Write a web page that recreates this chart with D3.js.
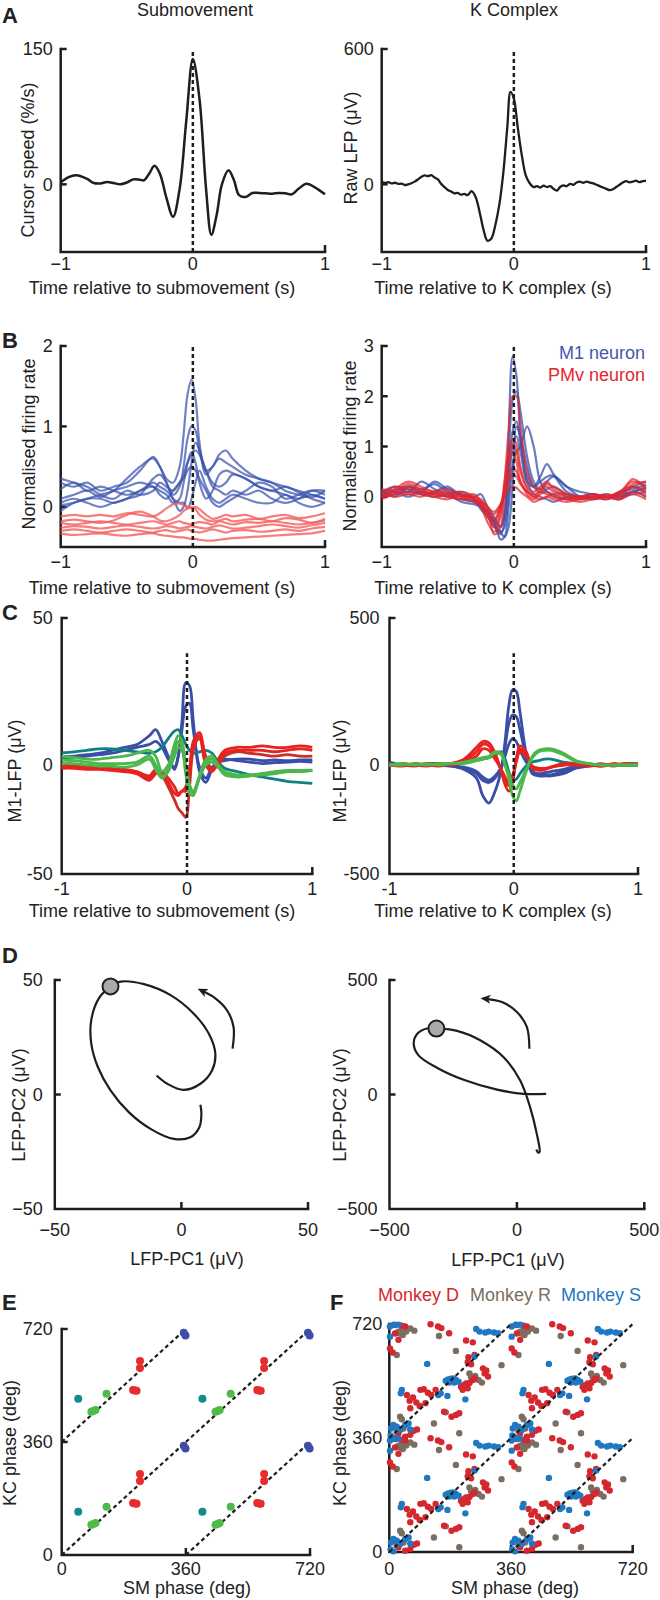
<!DOCTYPE html>
<html><head><meta charset="utf-8">
<script src="https://cdn.jsdelivr.net/npm/d3@7"></script>
<style>
body{margin:0;background:#fff;}
svg text{font-family:"Liberation Sans",Arial,sans-serif;fill:#222;}
</style></head><body>
<svg id="fig" width="660" height="1600"></svg>
<script>
// ---------------- DATA ----------------
// Panel A
const aLeftT = [-1,-0.94,-0.88,-0.8,-0.75,-0.7,-0.65,-0.6,-0.55,-0.5,-0.45,-0.4,-0.37,-0.33,-0.29,-0.25,-0.2,-0.15,-0.1,-0.05,0,0.05,0.1,0.14,0.18,0.22,0.27,0.31,0.35,0.4,0.45,0.5,0.55,0.6,0.65,0.7,0.75,0.8,0.86,0.92,1];
const aLeftV = [2,8,10,6,1.5,1,2.5,1.5,0,2,5.5,5,4.5,12,20.5,12,-15,-36,-5,70,139,95,-5,-56,-34,0,15.5,5,-12,-14,-9.6,-9.6,-10,-10.4,-9.6,-10,-11,-5,0.7,-3,-11];
const aRightT = [-1,-0.975,-0.95,-0.925,-0.9,-0.875,-0.85,-0.825,-0.8,-0.775,-0.75,-0.725,-0.7,-0.675,-0.65,-0.625,-0.6,-0.575,-0.55,-0.525,-0.5,-0.475,-0.45,-0.425,-0.4,-0.375,-0.35,-0.32,-0.29,-0.26,-0.23,-0.2,-0.17,-0.14,-0.11,-0.08,-0.05,-0.025,0,0.03,0.06,0.09,0.12,0.15,0.175,0.2,0.225,0.25,0.275,0.3,0.325,0.35,0.375,0.4,0.425,0.45,0.475,0.5,0.525,0.55,0.575,0.6,0.625,0.65,0.675,0.7,0.725,0.75,0.775,0.8,0.825,0.85,0.875,0.9,0.925,0.95,0.975,1];
const aRightV = [12,6,10,4,7,2,3,-3,0,5,12,22,33,40,36,41,30,22,2,-12,-25,-32,-40,-38,-46,-42,-48,-30,-55,-120,-200,-250,-240,-180,-90,50,250,410,380,250,130,40,5,-12,-8,-14,-6,-12,-8,-20,-28,-12,-5,-8,2,-2,8,12,7,12,8,4,-2,-8,-14,-20,-26,-22,-12,-2,8,14,9,12,16,10,14,15];

// Shared time grid for panels B and C
const tGrid = [-1,-0.9,-0.8,-0.7,-0.6,-0.5,-0.4,-0.3,-0.25,-0.2,-0.15,-0.1,-0.07,-0.04,-0.01,0.02,0.05,0.1,0.15,0.2,0.25,0.3,0.4,0.5,0.6,0.7,0.8,0.9,1];

// Panel B left (submovement)
const bLeftM1 = [
 [0.02,0.05,0.1,0.15,0.2,0.35,0.5,0.6,0.5,0.35,0.3,0.5,0.9,1.4,1.58,1.35,0.8,0.4,0.5,0.6,0.55,0.5,0.4,0.35,0.3,0.25,0.2,0.15,0.1],
 [0.3,0.25,0.3,0.2,0.25,0.3,0.45,0.62,0.5,0.3,0.15,0.25,0.5,0.85,1.0,0.95,0.7,0.45,0.5,0.65,0.7,0.6,0.45,0.35,0.3,0.2,0.15,0.12,0.2],
 [0.22,0.3,0.2,0.25,0.2,0.15,0.2,0.3,0.25,0.2,0.1,-0.05,0.0,0.2,0.55,0.8,0.7,0.45,0.3,0.25,0.3,0.4,0.35,0.25,0.2,0.15,0.1,0.15,0.1],
 [0.1,0.15,0.2,0.12,0.2,0.25,0.3,0.25,0.2,0.15,0.05,0.1,0.3,0.55,0.68,0.55,0.3,0.1,0.2,0.4,0.45,0.42,0.35,0.25,0.2,0.25,0.18,0.1,0.05],
 [0.35,0.3,0.25,0.15,0.1,0.2,0.15,0.2,0.3,0.25,0.2,0.3,0.4,0.55,0.65,0.7,0.65,0.45,0.25,0.2,0.15,0.2,0.15,0.2,0.1,0.05,0.1,0.2,0.2],
 [0.05,0.1,0.05,0.0,0.05,0.1,0.2,0.25,0.15,0.1,0.2,0.3,0.35,0.45,0.5,0.45,0.35,0.2,0.05,0.0,0.05,0.1,0.2,0.3,0.25,0.1,0.15,0.2,0.15],
 [-0.05,0.05,0.1,0.1,0.05,0.1,0.15,0.35,0.4,0.3,0.1,0.05,0.05,-0.02,0.1,0.3,0.45,0.25,0.1,0.05,0.1,0.15,0.1,0.05,0.05,0.15,0.05,0.0,0.05]
];
const bLeftPMv = [
 [-0.12,-0.1,-0.12,-0.1,-0.12,-0.08,-0.1,-0.12,-0.08,-0.02,0.03,0.04,0.02,0.0,-0.02,0.0,-0.03,-0.1,-0.15,-0.13,-0.1,-0.12,-0.1,-0.15,-0.12,-0.1,-0.14,-0.12,-0.08],
 [-0.18,-0.16,-0.18,-0.2,-0.17,-0.1,-0.06,-0.12,-0.17,-0.18,-0.15,-0.1,-0.05,-0.02,0.0,-0.03,-0.1,-0.16,-0.18,-0.17,-0.15,-0.18,-0.16,-0.15,-0.18,-0.14,-0.16,-0.2,-0.15],
 [-0.2,-0.22,-0.2,-0.18,-0.2,-0.22,-0.2,-0.18,-0.2,-0.22,-0.2,-0.18,-0.2,-0.21,-0.22,-0.2,-0.19,-0.2,-0.22,-0.18,-0.2,-0.22,-0.19,-0.2,-0.18,-0.2,-0.22,-0.2,-0.17],
 [-0.26,-0.24,-0.25,-0.27,-0.25,-0.23,-0.25,-0.27,-0.26,-0.24,-0.25,-0.27,-0.26,-0.25,-0.24,-0.25,-0.26,-0.27,-0.25,-0.23,-0.25,-0.27,-0.26,-0.24,-0.22,-0.24,-0.26,-0.23,-0.2],
 [-0.3,-0.28,-0.3,-0.32,-0.3,-0.28,-0.3,-0.32,-0.3,-0.29,-0.31,-0.3,-0.29,-0.28,-0.3,-0.31,-0.32,-0.3,-0.28,-0.3,-0.32,-0.3,-0.29,-0.31,-0.3,-0.28,-0.3,-0.27,-0.25],
 [-0.33,-0.35,-0.34,-0.33,-0.35,-0.36,-0.34,-0.33,-0.35,-0.36,-0.37,-0.38,-0.38,-0.39,-0.4,-0.4,-0.41,-0.42,-0.42,-0.41,-0.4,-0.39,-0.38,-0.37,-0.36,-0.35,-0.34,-0.33,-0.3]
];
// Panel B right (K complex)
const bRightM1 = [
 [0.05,0.2,0.1,0.3,0.15,0.05,-0.1,-0.15,-0.2,-0.35,-0.55,-0.75,-0.5,1.2,2.78,2.4,1.2,0.3,0.05,0.0,-0.05,-0.1,0.0,0.0,0.05,0.0,0.05,0.2,0.3],
 [0.1,0.15,0.2,0.1,0.3,0.15,0.05,0.0,0.05,-0.2,-0.4,-0.6,-0.3,0.8,1.9,2.1,1.7,0.8,0.3,0.15,0.3,0.4,0.2,0.1,0.05,0.0,0.05,0.1,0.2],
 [0.0,0.1,0.15,0.05,0.1,0.2,0.0,-0.1,-0.15,-0.3,-0.5,-0.85,-0.8,-0.2,0.6,0.9,1.0,1.4,1.0,0.3,0.1,0.05,-0.05,0.0,0.05,0.0,-0.05,0.1,0.0],
 [0.15,0.0,0.2,0.15,0.25,0.1,0.05,-0.05,-0.2,-0.3,-0.45,-0.6,-0.4,0.4,1.3,1.5,1.1,0.4,0.2,0.4,0.65,0.45,0.1,0.0,0.0,-0.05,0.1,0.15,0.25],
 [0.0,0.05,0.1,0.05,0.0,0.05,0.1,-0.05,-0.25,-0.4,-0.6,-0.7,-0.6,0.0,1.0,1.2,0.9,0.3,0.2,0.3,0.4,0.42,0.2,0.0,-0.05,0.0,0.0,0.05,0.1],
 [0.05,0.1,0.0,0.1,0.05,0.0,-0.05,-0.1,-0.2,-0.3,-0.5,-0.7,-0.8,-0.6,0.2,1.4,1.2,0.6,0.2,0.1,0.15,0.2,0.05,0.0,0.0,0.05,0.0,0.1,0.15]
];
const bRightPMv = [
 [0.0,0.15,0.3,0.2,0.1,0.15,0.05,-0.05,-0.2,-0.5,-0.7,-0.4,0.3,1.3,2.0,2.0,1.4,0.5,0.2,0.15,0.25,0.2,0.05,0.0,0.05,0.0,0.1,0.3,0.2],
 [0.1,0.2,0.15,0.1,0.05,0.1,0.0,0.05,-0.1,-0.35,-0.6,-0.3,0.2,0.8,1.15,1.05,0.6,0.2,0.1,0.2,0.3,0.15,0.0,-0.05,0.0,0.05,0.0,0.2,0.1],
 [0.05,0.1,0.25,0.15,0.1,0.0,0.1,0.0,-0.15,-0.4,-0.5,-0.2,0.3,0.85,1.05,0.9,0.5,0.15,0.0,0.1,0.2,0.1,0.05,0.0,-0.05,0.0,0.05,0.35,0.15],
 [-0.05,0.05,0.1,0.05,0.0,0.05,-0.05,-0.1,-0.2,-0.3,-0.45,-0.2,0.1,0.4,0.58,0.5,0.3,0.05,-0.05,0.05,0.1,0.0,-0.05,-0.1,-0.05,0.0,-0.05,0.1,0.0],
 [0.1,0.0,0.05,0.0,0.1,0.05,0.0,-0.05,-0.1,-0.25,-0.35,-0.15,0.1,0.3,0.45,0.4,0.25,0.1,0.0,-0.05,0.0,0.05,0.0,-0.05,0.0,-0.05,0.05,0.25,0.3],
 [0.15,0.1,0.05,0.1,0.0,-0.05,0.05,-0.05,-0.1,-0.2,-0.3,-0.15,0.0,0.15,0.2,0.18,0.1,0.0,-0.1,-0.05,0.0,-0.05,-0.1,-0.05,0.0,0.0,-0.05,0.05,-0.05],
 [0.0,0.05,0.2,0.1,0.05,0.0,-0.05,0.0,-0.05,-0.2,-0.75,-0.6,0.0,0.6,0.9,0.7,0.3,0.1,0.05,0.1,0.05,0.0,-0.05,0.0,0.05,0.0,0.1,0.2,0.05]
];

// Panel C left (submovement), M1-LFP in µV
const cLeftBlue = [
 [2.8,3,3.5,4,5,6,7,10,12,8,3,-2,3,15,28,27,15,-3,-8,-2,1,1.5,2,2,1.5,1.7,1.5,1.7,1.7],
 [2,2.5,3,3.5,4,5,6,7,8,6,2,-1,3,12,20,21,12,-1,-6,-1,1,2,1.5,1,0.5,0.8,1,1.2,1]
];
const cLeftTeal = [[4.2,4.5,5,5.5,5.5,5,4.5,4,4.5,6,9,11.5,12,10,7,5,4,4.5,5,4,1,-1.5,-3,-4.5,-5.5,-6.5,-7.5,-8,-8.4]];
const cLeftRed = [
 [-1,-1,-1.5,-1.5,-2,-2.5,-4,-6,-3,-5,-10,-16,-20,-22,-24,-10,5,10,3,-2,0,3,4.5,4,3.5,3,3.5,3,3],
 [0,-0.5,-1,-1,-1.5,-2,-3,-5,-2,-4,-8,-13,-14,-12,-12,-3,8,11,2,-2,2,5,6,6,6.5,6,6,6.5,6],
 [-1.5,-1.5,-2,-2,-2.5,-3,-4,-7,-4,-3,-6,-10,-13,-12,-10,-2,6,9,0,-3,1,4,5,5,5,4.5,5,5.5,5]
];
const cLeftGreen = [
 [1.7,1.5,1,0.5,0.5,0.5,1,3,0,-5,-2,5,8,6,-4,-13,-14,-5,1,2,-1,-4,-5,-5,-4,-3,-2.5,-2.5,-2.3],
 [0.5,0.5,0,-0.5,-0.5,-1,0,2,-2,-6,-3,3,6,5,-2,-10,-13,-6,0,1,-1,-4.5,-5.5,-5,-4.5,-4,-3,-3,-2.5],
 [3,2.5,2,2,2.5,3,4,5,3,-3,0,7,10,8,0,-9,-12,-5,2,3,0,-3,-4.5,-4.5,-4,-3.5,-3,-3,-2.5]
];
// Panel C right (K complex)
const cRightBlue = [
 [10,0,0,0,0,-5,-20,-60,-140,-175,-120,-20,80,200,255,250,180,40,-40,-50,-50,-50,-40,-15,-5,0,0,5,5],
 [5,0,0,0,-2,-5,-15,-40,-70,-80,-60,-10,60,140,170,165,120,30,-30,-45,-45,-45,-30,-10,-3,0,0,0,0],
 [0,0,0,0,0,-3,-10,-30,-55,-70,-50,-10,30,70,90,80,50,10,-30,-40,-35,-30,-20,-5,0,0,0,0,0]
];
const cRightTeal = [[0,0,0,5,5,5,10,15,20,25,35,45,20,-30,-70,-65,-40,-5,10,15,20,20,10,5,0,0,0,0,0]];
const cRightRed = [
 [0,-5,5,0,-5,5,20,60,80,75,40,-30,-90,-120,-80,20,65,45,-15,-25,-20,-10,5,0,-5,5,-5,5,0],
 [5,0,-5,5,0,5,15,45,70,65,30,-25,-70,-95,-60,15,55,35,-10,-20,-20,-10,0,5,0,-5,5,0,5],
 [-5,5,0,-5,5,0,10,30,55,50,20,-20,-55,-80,-50,10,45,30,-5,-15,-15,-10,0,0,5,-5,0,5,0]
];
const cRightGreen = [
 [0,0,5,0,5,5,10,20,25,30,45,40,0,-60,-140,-165,-120,-30,30,50,55,55,40,15,5,0,0,0,0],
 [0,5,0,5,0,5,5,15,20,25,40,35,0,-40,-90,-110,-80,-20,25,45,50,50,35,12,5,0,0,0,0]
];

// Panel D: LFP PC trajectories [PC1, PC2] in µV
const dLeftPath = [[-9.8,8.3],[-5.6,4.7],[0.9,2.0],[7.5,4.7],[12.1,10.5],[13.4,17.8],[10.8,26.6],[4.8,35.4],[-4.3,43.4],[-14.8,48.2],[-24,49.3],[-28,47.1],[-32.6,42],[-35.6,32.5],[-35.6,22.2],[-33,12],[-28,1.8],[-20.7,-7.8],[-12.2,-15],[-3,-19.4],[3.5,-18.7],[7.1,-14.3],[7.9,-8.5],[7.5,-4.5]];
const dLeftDot = [-28,47.2];
const dLeftArrow = [[20.2,20],[20.6,29.5],[18,36.8],[13.4,42],[7.5,45.6]];
const dRightPath = [[115,3],[26,3],[-78,21],[-209,64],[-314,117],[-386,171],[-405,222],[-390,266],[-353,288],[-316,288],[-235,278],[-144,237],[-53,164],[13,61],[52,-56],[78,-172],[89,-250],[84,-254],[76,-240]];
const dRightDot = [-316,288];
const dRightArrow = [[49,200],[39,295],[0,360],[-59,404],[-131,419]];

// Panel E: phase pairs [SM phase, KC phase] (deg), base cycle
const eTeal = [[48,138]];
const eGreen = [[130,154],[86,96],[92,99],[98,102]];
const eRed = [[207,166],[212,164],[217,163],[227,258],[227,236]];
const eBlue = [[354,348],[359,339]];
// Panel F: phase pairs per monkey, base cycle
const fMonkeyD = [[2,283],[10,270],[27,310],[17,357],[37,355],[47,352],[122,359],[144,352],[154,347],[177,331],[227,308],[247,302],[234,255],[252,262],[232,239],[242,233],[277,220],[287,213],[282,204],[212,162],[220,167],[227,172],[217,152],[237,174],[247,183],[252,188],[232,157],[292,194],[52,136],[70,128],[92,152],[102,154],[114,143],[124,136],[137,152],[62,94],[90,101],[107,110],[162,83],[184,67],[197,73],[207,78],[27,15],[47,4],[62,10],[72,23],[82,27],[17,330],[60,118],[80,112]];
const fMonkeyR = [[27,336],[37,341],[50,336],[62,346],[74,339],[22,262],[147,322],[197,275],[332,230],[237,204],[242,192],[254,196],[264,183],[274,175],[167,81],[132,46],[207,15],[32,67],[37,59],[22,22],[42,30],[30,330],[40,325]];
const fMonkeyS = [[2,352],[14,358],[27,358],[2,320],[112,234],[257,344],[267,336],[284,333],[294,336],[310,333],[322,331],[167,181],[174,185],[182,187],[190,188],[197,183],[205,178],[177,175],[192,175],[225,122],[145,136],[152,141],[172,133],[37,152],[34,141],[5,30],[12,41],[22,36],[32,25],[47,41],[57,46],[62,27],[4,8],[12,2],[252,257]];
const phaseLines = [[[0,360],[360,720]],[[0,0],[720,720]],[[360,0],[720,360]]];

// ---------------- DRAWING ----------------
const svg = d3.select('#fig');
svg.append('rect').attr('width',660).attr('height',1600).attr('fill','#fff');
const INK = '#1e1e1e';
const FS = 18;
const defs = svg.append('defs');
defs.append('marker').attr('id','ah').attr('viewBox','0 0 10 10').attr('refX',7).attr('refY',5)
  .attr('markerWidth',10).attr('markerHeight',10).attr('markerUnits','userSpaceOnUse').attr('orient','auto')
  .append('path').attr('d','M0,0.5 L10,5 L0,9.5 L2.5,5 z').attr('fill',INK);

function txt(x,y,s,o={}){
  const t = svg.append('text').attr('x',x).attr('y',y).text(s)
    .attr('font-size',o.size||FS).attr('text-anchor',o.anchor||'start');
  if(o.weight) t.attr('font-weight',o.weight);
  if(o.fill) t.style('fill',o.fill);
  if(o.dy) t.attr('dy',o.dy);
  if(o.rotate) t.attr('transform',`rotate(-90,${x},${y})`);
  return t;
}
function frame(x,y,o){
  const g = svg.append('g');
  const xr = x.range(), yr = y.range();
  const x0 = xr[0], x1 = xr[xr.length-1], yb = yr[0], yt = yr[yr.length-1];
  g.append('path').attr('d',`M${x0},${yt}V${yb}H${x1}`).attr('fill','none')
    .attr('stroke',INK).attr('stroke-width',2.5).attr('stroke-linecap','square');
  (o.yMarks||[]).forEach(v=>g.append('line').attr('x1',x0).attr('x2',x0+6).attr('y1',y(v)).attr('y2',y(v)).attr('stroke',INK).attr('stroke-width',2.5));
  (o.xMarks||[]).forEach(v=>g.append('line').attr('x1',x(v)).attr('x2',x(v)).attr('y1',yb).attr('y2',yb-7).attr('stroke',INK).attr('stroke-width',2.5));
  o.yTicks.forEach((v,i)=>txt(x0-o.gap,y(v),o.yLabels[i],{anchor:'end',dy:'0.35em'}));
  o.xTicks.forEach((v,i)=>txt(x(v),o.xTickY,o.xLabels[i],{anchor:'middle'}));
}
function seriesLines(x,y,times,list,color,width,opacity){
  const line = d3.line().x((d,i)=>x(times[i])).y(d=>y(d)).curve(d3.curveCatmullRom.alpha(0.5));
  list.forEach(s=>svg.append('path').attr('d',line(s)).attr('fill','none').attr('stroke',color)
    .attr('stroke-width',width).attr('stroke-opacity',opacity).attr('stroke-linejoin','round'));
}
function zeroDash(x,y,lo,hi){
  svg.append('line').attr('x1',x(0)).attr('x2',x(0)).attr('y1',y(lo)).attr('y2',y(hi))
    .attr('stroke',INK).attr('stroke-width',2.5).attr('stroke-dasharray','4,3');
}
const MINUS = '\u2212';

// Titles and panel letters
txt(195,16,'Submovement',{anchor:'middle'});
txt(514,16,'K Complex',{anchor:'middle'});
[['A',2,23],['B',2,348],['C',2,620],['D',2,963],['E',2,1310],['F',330,1310]].forEach(d=>txt(d[1],d[2],d[0],{size:22,weight:'bold'}));

// ---- Panel A ----
const xAL = d3.scaleLinear().domain([-1,1]).range([60.7,325]);
const yAL = d3.scaleLinear().domain([-75,150]).range([252,49]);
frame(xAL,yAL,{yMarks:[150,0],xMarks:[1],yTicks:[150,0],yLabels:['150','0'],gap:8,xTicks:[-1,0,1],xLabels:[MINUS+'1','0','1'],xTickY:270});
svg.append('path').attr('d',d3.line().x((d,i)=>xAL(aLeftT[i])).y(d=>yAL(d)).curve(d3.curveCatmullRom.alpha(0.5))(aLeftV))
  .attr('fill','none').attr('stroke',INK).attr('stroke-width',2.5);
zeroDash(xAL,yAL,-75,150);
txt(34,160,'Cursor speed (%/s)',{anchor:'middle',rotate:true});
txt(162,294,'Time relative to submovement (s)',{anchor:'middle'});

const xAR = d3.scaleLinear().domain([-1,1]).range([381.7,646]);
const yAR = d3.scaleLinear().domain([-300,600]).range([252,49]);
frame(xAR,yAR,{yMarks:[600,0],xMarks:[1],yTicks:[600,0],yLabels:['600','0'],gap:8,xTicks:[-1,0,1],xLabels:[MINUS+'1','0','1'],xTickY:270});
svg.append('path').attr('d',d3.line().x((d,i)=>xAR(aRightT[i])).y(d=>yAR(d)).curve(d3.curveCatmullRom.alpha(0.5))(aRightV))
  .attr('fill','none').attr('stroke',INK).attr('stroke-width',2.3).attr('stroke-linejoin','round');
zeroDash(xAR,yAR,-300,600);
txt(357,148,'Raw LFP (\u03BCV)',{anchor:'middle',rotate:true});
txt(493,294,'Time relative to K complex (s)',{anchor:'middle'});

// ---- Panel B ----
const xBL = d3.scaleLinear().domain([-1,1]).range([60.7,325]);
const yBL = d3.scaleLinear().domain([-0.5,2]).range([547,346]);
frame(xBL,yBL,{yMarks:[2,1,0],xMarks:[1],yTicks:[2,1,0],yLabels:['2','1','0'],gap:8,xTicks:[-1,0,1],xLabels:[MINUS+'1','0','1'],xTickY:568});
seriesLines(xBL,yBL,tGrid,bLeftM1,'#3a52ad',2.2,0.72);
seriesLines(xBL,yBL,tGrid,bLeftPMv,'#f25c5c',2.2,0.8);
zeroDash(xBL,yBL,-0.5,2);
txt(35,444,'Normalised firing rate',{anchor:'middle',rotate:true});
txt(162,594,'Time relative to submovement (s)',{anchor:'middle'});

const xBR = d3.scaleLinear().domain([-1,1]).range([381.7,646]);
const yBR = d3.scaleLinear().domain([-1,3]).range([547,346]);
frame(xBR,yBR,{yMarks:[3,2,1,0],xMarks:[1],yTicks:[3,2,1,0],yLabels:['3','2','1','0'],gap:8,xTicks:[-1,0,1],xLabels:[MINUS+'1','0','1'],xTickY:568});
seriesLines(xBR,yBR,tGrid,bRightM1,'#3a52ad',2.2,0.75);
seriesLines(xBR,yBR,tGrid,bRightPMv,'#e3262e',2.2,0.72);
zeroDash(xBR,yBR,-1,3);
txt(356,446,'Normalised firing rate',{anchor:'middle',rotate:true});
txt(493,594,'Time relative to K complex (s)',{anchor:'middle'});
txt(645,359,'M1 neuron',{anchor:'end',fill:'#4257b0'});
txt(645,381,'PMv neuron',{anchor:'end',fill:'#e3262e'});

// ---- Panel C ----
const xCL = d3.scaleLinear().domain([-1,1]).range([61.7,312.3]);
const yCL = d3.scaleLinear().domain([-50,0,50]).range([874,765,618]);
frame(xCL,yCL,{yMarks:[50],xMarks:[1],yTicks:[50,0,-50],yLabels:['50','0','-50'],gap:9,xTicks:[-1,0,1],xLabels:['-1','0','1'],xTickY:895});
seriesLines(xCL,yCL,tGrid,cLeftBlue,'#3a4ea7',2.8,1);
seriesLines(xCL,yCL,tGrid,cLeftTeal,'#0e8080',2.8,1);
seriesLines(xCL,yCL,tGrid,cLeftRed.slice(0,1),'#c9302a',2.8,1);
seriesLines(xCL,yCL,tGrid,cLeftRed.slice(1),'#e8221f',2.8,1);
seriesLines(xCL,yCL,tGrid,cLeftGreen,'#4cb74a',2.8,1);
zeroDash(xCL,yCL,-50,38);
txt(21,771,'M1-LFP (\u03BCV)',{anchor:'middle',rotate:true});
txt(162,917,'Time relative to submovement (s)',{anchor:'middle'});

const xCR = d3.scaleLinear().domain([-1,1]).range([389.5,638]);
const yCR = d3.scaleLinear().domain([-500,0,500]).range([874,765,618]);
frame(xCR,yCR,{yMarks:[500],xMarks:[1],yTicks:[500,0,-500],yLabels:['500','0','-500'],gap:10,xTicks:[-1,0,1],xLabels:['-1','0','1'],xTickY:895});
seriesLines(xCR,yCR,tGrid,cRightBlue,'#3a4ea7',2.8,1);
seriesLines(xCR,yCR,tGrid,cRightTeal,'#0e8080',2.8,1);
seriesLines(xCR,yCR,tGrid,cRightRed,'#e8221f',2.8,1);
seriesLines(xCR,yCR,tGrid,cRightGreen,'#4cb74a',2.8,1);
zeroDash(xCR,yCR,-500,380);
txt(346,771,'M1-LFP (\u03BCV)',{anchor:'middle',rotate:true});
txt(493,917,'Time relative to K complex (s)',{anchor:'middle'});

// ---- Panel D ----
function trajectory(x,y,path,dot,arrow){
  const ln = d3.line().x(d=>x(d[0])).y(d=>y(d[1])).curve(d3.curveCatmullRom.alpha(0.5));
  svg.append('path').attr('d',ln(path)).attr('fill','none').attr('stroke',INK).attr('stroke-width',2.2);
  svg.append('path').attr('d',ln(arrow)).attr('fill','none').attr('stroke',INK).attr('stroke-width',2.2).attr('marker-end','url(#ah)');
  svg.append('circle').attr('cx',x(dot[0])).attr('cy',y(dot[1])).attr('r',8).attr('fill','#aaaaaa').attr('stroke',INK).attr('stroke-width',2);
}
const xDL = d3.scaleLinear().domain([-50,50]).range([54.8,308]);
const yDL = d3.scaleLinear().domain([-50,50]).range([1209,980]);
frame(xDL,yDL,{yMarks:[50,0],xMarks:[0,50],yTicks:[50,0,-50],yLabels:['50','0',MINUS+'50'],gap:12,xTicks:[-50,0,50],xLabels:[MINUS+'50','0','50'],xTickY:1236});
trajectory(xDL,yDL,dLeftPath,dLeftDot,dLeftArrow);
txt(25,1105,'LFP-PC2 (\u03BCV)',{anchor:'middle',rotate:true});
txt(187,1265,'LFP-PC1 (\u03BCV)',{anchor:'middle'});

const xDR = d3.scaleLinear().domain([-500,500]).range([389.5,644.3]);
const yDR = d3.scaleLinear().domain([-500,500]).range([1209,980]);
frame(xDR,yDR,{yMarks:[500,0],xMarks:[0,500],yTicks:[500,0,-500],yLabels:['500','0',MINUS+'500'],gap:12,xTicks:[-500,0,500],xLabels:[MINUS+'500','0','500'],xTickY:1236});
trajectory(xDR,yDR,dRightPath,dRightDot,dRightArrow);
txt(346,1105,'LFP-PC2 (\u03BCV)',{anchor:'middle',rotate:true});
txt(508,1266,'LFP-PC1 (\u03BCV)',{anchor:'middle'});

// ---- Panels E, F ----
function tiles(pts){const out=[];[0,360].forEach(ox=>[0,360].forEach(oy=>pts.forEach(p=>out.push([p[0]+ox,p[1]+oy]))));return out;}
function dashLines(x,y){
  const ln = d3.line().x(d=>x(d[0])).y(d=>y(d[1]));
  phaseLines.forEach(l=>svg.append('path').attr('d',ln(l)).attr('fill','none').attr('stroke',INK).attr('stroke-width',2.2).attr('stroke-dasharray','4,3'));
}
function dots(x,y,pts,color,r){
  svg.append('g').selectAll('circle').data(tiles(pts)).join('circle')
    .attr('cx',d=>x(d[0])).attr('cy',d=>y(d[1])).attr('r',r).attr('fill',color);
}
const xE = d3.scaleLinear().domain([0,720]).range([61.7,310]);
const yE = d3.scaleLinear().domain([0,720]).range([1555,1329]);
frame(xE,yE,{yMarks:[720,360],xMarks:[360,720],yTicks:[720,360,0],yLabels:['720','360','0'],gap:9,xTicks:[0,360,720],xLabels:['0','360','720'],xTickY:1575});
dashLines(xE,yE);
dots(xE,yE,eTeal,'#138b8c',4);
dots(xE,yE,eGreen,'#4cbb47',4);
dots(xE,yE,eRed,'#e82b2b',4);
dots(xE,yE,eBlue,'#3b4fa6',4);
txt(16,1443,'KC phase (deg)',{anchor:'middle',rotate:true});
txt(187,1594,'SM phase (deg)',{anchor:'middle'});

const xF = d3.scaleLinear().domain([0,720]).range([389.3,632.7]);
const yF = d3.scaleLinear().domain([0,720]).range([1552,1324]);
frame(xF,yF,{yMarks:[720,360],xMarks:[360,720],yTicks:[720,360,0],yLabels:['720','360','0'],gap:7,xTicks:[0,360,720],xLabels:['0','360','720'],xTickY:1575});
dots(xF,yF,fMonkeyR,'#7b6d60',3.2);
dots(xF,yF,fMonkeyD,'#d4272e',3.2);
dots(xF,yF,fMonkeyS,'#1f78c1',3.2);
dashLines(xF,yF);
txt(346,1443,'KC phase (deg)',{anchor:'middle',rotate:true});
txt(515,1594,'SM phase (deg)',{anchor:'middle'});
txt(378,1301,'Monkey D',{fill:'#d4272e'});
txt(470,1301,'Monkey R',{fill:'#7b6d60'});
txt(561,1301,'Monkey S',{fill:'#1f78c1'});
</script>
</body></html>
